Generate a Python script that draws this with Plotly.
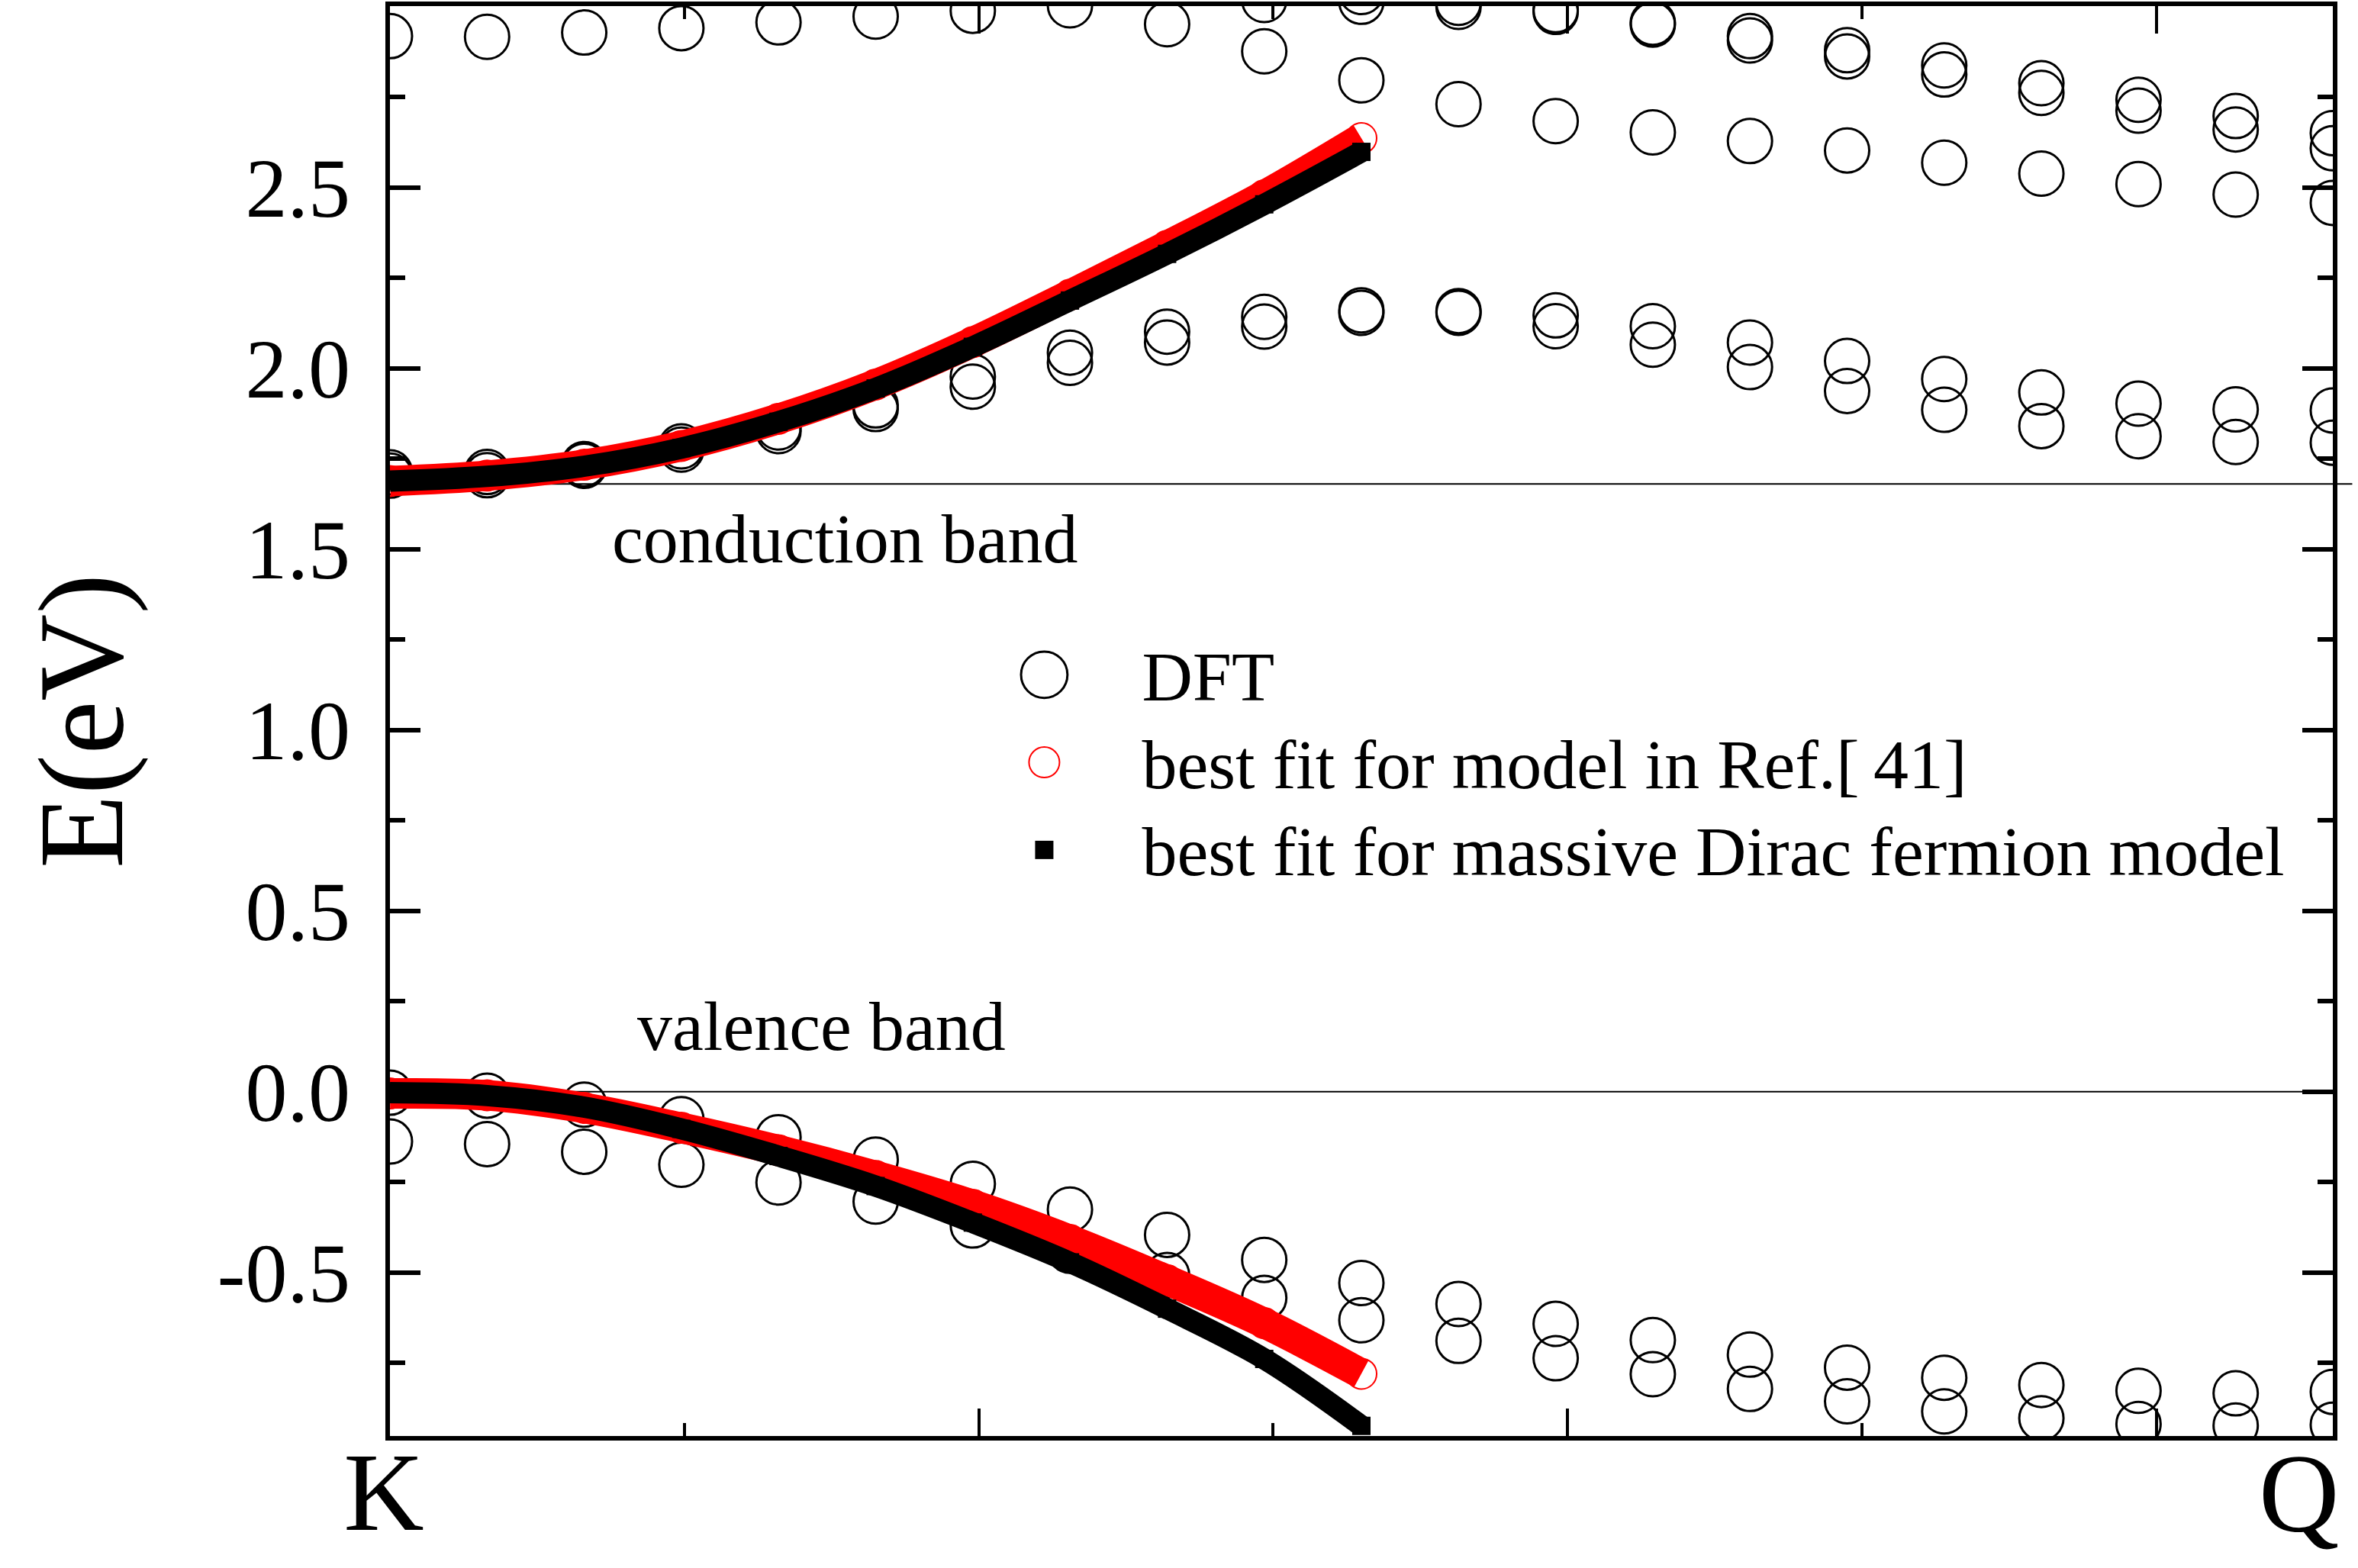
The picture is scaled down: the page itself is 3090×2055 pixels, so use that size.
import plotly.graph_objects as go

FONT = "Liberation Serif"

# k points along K -> Q (DFT sampling)
k = [0.000, 0.033, 0.066, 0.099, 0.132, 0.165, 0.198, 0.231, 0.264, 0.297, 0.330,
     0.363, 0.396, 0.429, 0.462, 0.495, 0.528, 0.561, 0.594, 0.627, 0.660]
k_fit = k[:11]

# DFT bands (eV), None = no point in the window
dft_v2 = [-0.138, -0.145, -0.166, -0.202, -0.251, -0.304, -0.370, -0.440, -0.507, -0.570, -0.632,
          -0.689, -0.737, -0.781, -0.822, -0.856, -0.884, -0.903, -0.919, -0.923, -0.921]
dft_v1 = [-0.003, -0.011, -0.036, -0.076, -0.126, -0.188, -0.255, -0.326, -0.396, -0.465, -0.529,
          -0.587, -0.642, -0.687, -0.727, -0.763, -0.791, -0.811, -0.827, -0.834, -0.830]
dft_c1 = [1.703, 1.704, 1.730, 1.775, 1.826, 1.887, 1.949, 2.015, 2.071, 2.115, 2.153,
          2.153, 2.116, 2.065, 2.003, 1.937, 1.885, 1.840, 1.812, 1.796, 1.794]
dft_c2 = [1.712, 1.713, 1.735, 1.784, 1.836, 1.897, 1.977, 2.043, 2.101, 2.142, 2.160,
          2.158, 2.146, 2.116, 2.071, 2.020, 1.970, 1.933, 1.902, 1.886, 1.883]
dft_c3 = [None, None, None, None, None, None, None, None, 2.951, 2.876, 2.796,
          2.730, 2.683, 2.652, 2.628, 2.602, 2.568, 2.538, 2.509, 2.480, 2.457]
dft_c4 = [2.918, 2.916, 2.928, 2.940, 2.956, 2.972, 2.988, 3.003, None, 3.018, 3.013,
          2.999, 2.985, 2.950, 2.906, 2.862, 2.812, 2.761, 2.712, 2.660, 2.608]
dft_c5 = [None, None, None, None, None, None, None, None, None, None, 3.040,
          3.010, 2.990, 2.955, 2.918, 2.879, 2.837, 2.788, 2.742, 2.697, 2.650]

# best fits (eV) on the first half of the path
fit41_cb = [1.688, 1.703, 1.733, 1.785, 1.860, 1.955, 2.072, 2.203, 2.338, 2.478, 2.636]
fit41_vb = [-0.005, -0.010, -0.045, -0.100, -0.162, -0.233, -0.313, -0.410, -0.521, -0.640, -0.780]
dirac_cb = [1.688, 1.701, 1.729, 1.779, 1.852, 1.944, 2.059, 2.187, 2.316, 2.453, 2.598]
dirac_vb = [-0.003, -0.011, -0.043, -0.103, -0.178, -0.261, -0.362, -0.472, -0.600, -0.739, -0.924]

cbm = 1.68
vbm = 0.0

y_ticks = [-0.5, 0.0, 0.5, 1.0, 1.5, 2.0, 2.5]
y_labels = ["-0.5", "0.0", "0.5", "1.0", "1.5", "2.0", "2.5"]
y_minor = [-0.75, -0.25, 0.25, 0.75, 1.25, 1.75, 2.25, 2.75]
x_ticks = [0.0, 0.2, 0.4, 0.6, 0.6599]
x_labels = ["K", "", "", "", ""]
x_minor = [0.1, 0.3, 0.5]
q_label = "Q"

# legend rows are spaced for 86px text, the text itself is drawn at 92px
def big(s):
    return '<span style="font-size:92px">' + s + "</span>"

dft_x, dft_y = [], []
for band in [dft_v2, dft_v1, dft_c1, dft_c2, dft_c3, dft_c4, dft_c5]:
    for kk, e in zip(k, band):
        if e is not None:
            dft_x.append(kk)
            dft_y.append(e)

fig = go.Figure()
fig.add_trace(go.Scatter(x=dft_x, y=dft_y, mode="markers", name=big("DFT"),
                         marker=dict(symbol="circle-open", size=58, color="black", line=dict(width=3))))

# Ref.[41] fit: thick red band + open circles
for band in (fit41_cb, fit41_vb):
    fig.add_trace(go.Scatter(x=k_fit, y=band, mode="lines", showlegend=False, hoverinfo="skip",
                             line=dict(color="red", width=40, shape="spline")))
fig.add_trace(go.Scatter(x=k_fit + k_fit, y=fit41_cb + fit41_vb, mode="markers",
                         name=big("best fit for model in Ref.[\u200941]"),
                         marker=dict(symbol="circle-open", size=40, color="red", line=dict(width=2))))

# massive Dirac fermion fit: black band + squares
for band in (dirac_cb, dirac_vb):
    fig.add_trace(go.Scatter(x=k_fit, y=band, mode="lines", showlegend=False, hoverinfo="skip",
                             line=dict(color="black", width=28, shape="spline")))
# squares sit on the overlay axis x2 (top-most anyway), which also carries the Q label
fig.add_trace(go.Scatter(x=k_fit + k_fit, y=dirac_cb + dirac_vb, mode="markers", xaxis="x2",
                         name=big("best fit for massive Dirac fermion model"),
                         marker=dict(symbol="square", size=24, color="black")))

# band edges
fig.add_shape(type="line", xref="paper", yref="y", x0=0, x1=1.01, y0=cbm, y1=cbm,
              line=dict(color="black", width=2), layer="below")
fig.add_shape(type="line", xref="paper", yref="y", x0=0, x1=1, y0=vbm, y1=vbm,
              line=dict(color="black", width=2), layer="below")

fig.add_annotation(x=0.1545, y=1.529, text="conduction band", showarrow=False, font=dict(size=92))
fig.add_annotation(x=0.1467, y=0.18, text="valence band", showarrow=False, font=dict(size=92))

fig.update_layout(
    width=3090, height=2055,
    margin=dict(l=511, r=33, t=8, b=173),
    paper_bgcolor="white", plot_bgcolor="rgba(0,0,0,0)",
    font=dict(family=FONT, color="black", size=92),
    legend=dict(x=0.2865, y=0.5657, xanchor="left", yanchor="top", itemwidth=246,
                font=dict(size=86), bgcolor="rgba(0,0,0,0)", borderwidth=0),
)
fig.update_xaxes(range=[0, 0.66], showgrid=False, zeroline=False, automargin=False,
                 showline=True, linewidth=6, linecolor="black", mirror="ticks",
                 ticks="inside", ticklen=36, tickwidth=4, tickcolor="black",
                 tickmode="array", tickvals=x_ticks, ticktext=x_labels,
                 tickfont=dict(size=146), ticklabelshift=-8, ticklabelstandoff=-58,
                 minor=dict(tickmode="array", tickvals=x_minor, ticks="inside",
                            ticklen=17, tickwidth=4, tickcolor="black"))
fig.update_layout(xaxis2=dict(overlaying="x", anchor="y", side="bottom", range=[0, 0.66],
                              showgrid=False, zeroline=False, showline=False, automargin=False,
                              ticks="", tickmode="array", tickvals=[x_ticks[-1]], ticktext=[q_label],
                              tickfont=dict(size=146, family=FONT, color="black"),
                              ticklabelshift=-44, ticklabelstandoff=-22, ticklabeloverflow="allow"))
fig.update_yaxes(range=[-0.952, 3.001], showgrid=False, zeroline=False, automargin=False,
                 showline=True, linewidth=6, linecolor="black", mirror="ticks",
                 ticks="inside", ticklen=40, tickwidth=6, tickcolor="black",
                 tickmode="array", tickvals=y_ticks, ticktext=y_labels,
                 tickfont=dict(size=110), ticklabelstandoff=24,
                 minor=dict(tickmode="array", tickvals=y_minor, ticks="inside",
                            ticklen=20, tickwidth=6, tickcolor="black"),
                 title=dict(text="E(eV)", font=dict(size=158), standoff=73))

# page without body margin; plotly caps legend symbols at 16px, so enlarge them
legend_js = """
document.body.style.margin = '0';
var gd = document.getElementById('{plot_id}');
function bigLegend() {
  document.querySelectorAll('.legendpoints').forEach(function (lp) {
    var item = lp.parentNode;
    while (item && !item.querySelector('.legendtext')) item = item.parentNode;
    if (!item) return;
    var txt = item.querySelector('.legendtext').textContent;
    var s = txt.indexOf('DFT') === 0 ? 3.8 : (txt.indexOf('Ref') >= 0 ? 2.5 : 1.5);
    lp.querySelectorAll('path').forEach(function (p) {
      var t = p.getAttribute('transform') || '';
      if (t.indexOf('scale') < 0) {
        p.setAttribute('transform', t + ' scale(' + s + ')');
        p.style.vectorEffect = 'non-scaling-stroke';
      }
    });
  });
}
bigLegend();
gd.on('plotly_afterplot', bigLegend);
new MutationObserver(bigLegend).observe(gd, {childList: true, subtree: true,
                                             attributes: true, attributeFilter: ['transform']});
"""

fig.write_html("out.html", post_script=legend_js, config={"displayModeBar": False})
